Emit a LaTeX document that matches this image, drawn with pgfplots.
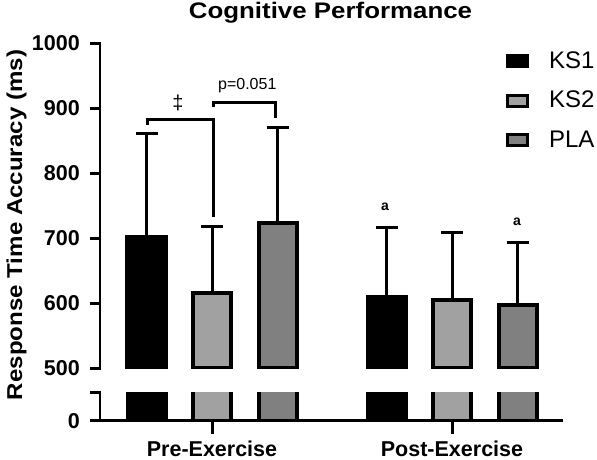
\documentclass[border=0pt]{standalone}
\usepackage{fontspec}
\setmainfont{Liberation Sans}
\usepackage{pgfplots}
\pgfplotsset{compat=1.18}
\definecolor{ksgray}{gray}{0.63}
\definecolor{plagray}{gray}{0.50}
\pgfplotsset{
  common/.style={
    scale only axis, width=462pt,
    xmin=-0.466667, xmax=1.458333,
    ybar, bar width=38pt,
    axis line style={-, line width=2.7pt, line cap=rect, black},
    every outer x axis line/.append style={-},
    every outer y axis line/.append style={-},
    major tick style={line width=2.7pt, black},
    tick align=outside, major tick length=10pt,
    yticklabel style={font=\bfseries\fontsize{21.5}{21.5}\selectfont, inner sep=0pt, xshift=-10pt},
  },
  barA/.style={bar shift=-65.5pt, fill=black, draw=black, line width=4pt},
  barB/.style={bar shift=0pt, fill=ksgray, draw=black, line width=4pt},
  barC/.style={bar shift=65.5pt, fill=plagray, draw=black, line width=4pt},
  errs/.style={error bars/.cd, y dir=plus, y explicit, error mark=|,
    error bar style={line width=3pt, black},
    error mark options={line width=3pt, black, mark size=11pt}},
}
\begin{document}
\begin{tikzpicture}[x=1pt,y=1pt]
\useasboundingbox (0,0) rectangle (597,459);
% top segment
\begin{axis}[common,
  at={(100pt,90.7pt)}, anchor=south west,
  height=324.8pt,
  ymin=500, ymax=1000,
  axis y line*=left, axis x line=none,
  ytick={500,600,700,800,900,1000},
  yticklabels={500,600,700,800,900,1000},
  xtick=\empty,
  legend style={at={(0.872,0.983)}, anchor=north west, draw=none, fill=none,
    font=\fontsize{24}{24}\selectfont, row sep=22.2pt, column sep=20pt,
    nodes={inner sep=0pt, text height=17.2pt, text depth=0pt}},
  legend cell align=left,
  legend image code/.code={\draw[#1, line width=3pt] (1.5pt,-6.9pt) rectangle (21.5pt,4.1pt);},
]
\addplot[barA, errs] coordinates {(0,702) +- (0,160) (1,609) +- (0,108)};
\addlegendentry{KS1}
\addplot[barB, errs] coordinates {(0,616) +- (0,102) (1,605) +- (0,104)};
\addlegendentry{KS2}
\addplot[barC, errs] coordinates {(0,723) +- (0,147) (1,597) +- (0,97)};
\addlegendentry{PLA}
\draw[line width=3pt, black] (axis cs:-0.2708,874.5) |- (axis cs:0.006,883.3) -- (axis cs:0.006,733.4);
\draw[line width=3pt, black] (axis cs:0.006,901.8) |- (axis cs:0.2625,909.5) -- (axis cs:0.2625,884.9);
\node[font=\fontsize{20}{20}\selectfont] at (axis cs:-0.1417,908.4) {‡};
\node[font=\fontsize{16}{16}\selectfont] at (axis cs:0.147,936) {p=0.051};
\node[font=\bfseries\fontsize{14}{14}\selectfont] at (axis cs:0.7208,748.8) {a};
\node[font=\bfseries\fontsize{14}{14}\selectfont] at (axis cs:1.2708,724.8) {a};
\end{axis}
% bottom segment
\begin{axis}[common, name=bot,
  at={(100pt,38.3pt)}, anchor=south west,
  height=28.4pt,
  ymin=0, ymax=50,
  axis y line*=left, axis x line*=bottom,
  xtick align=outside,
  ytick={0,50}, yticklabels={0,{}},
  xtick={0,1}, xticklabels={Pre-Exercise,Post-Exercise},
  xticklabel style={font=\bfseries\fontsize{21.5}{21.5}\selectfont, anchor=north, inner sep=0pt, text height=15.4pt, text depth=0pt, yshift=-10.5pt},
]
\addplot[barA] coordinates {(0,702) (1,609)};
\addplot[barB] coordinates {(0,616) (1,605)};
\addplot[barC] coordinates {(0,723) (1,597)};
\end{axis}
% x axis line and group ticks of the lower segment
\draw[line width=2.7pt, line cap=rect, black] (100,38.3) -- (562,38.3);
\draw[line width=3pt, black] (212,38.3) -- (212,25.5);
\draw[line width=3pt, black] (452,38.3) -- (452,25.5);
\node[font=\bfseries\fontsize{22.5}{22.5}\selectfont, anchor=base] at (330.5,440.7) {\scalebox{1.15}[1]{Cognitive Performance}};
\node[rotate=90, anchor=base, font=\bfseries\fontsize{21.5}{21.5}\selectfont] at (22,234) {\scalebox{1.12}[1]{Response Time Accuracy (ms)}};
\end{tikzpicture}
\end{document}
